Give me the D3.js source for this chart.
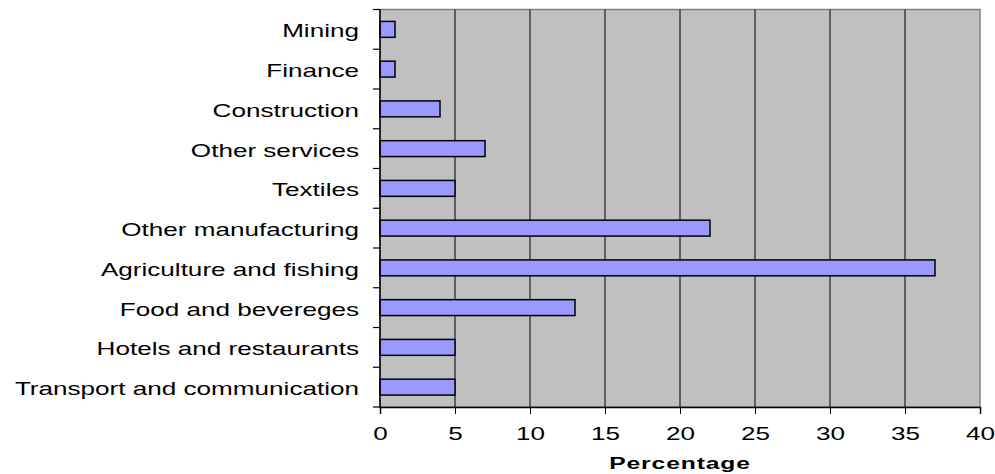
<!DOCTYPE html>
<html>
<head>
<meta charset="utf-8">
<script src="https://cdn.jsdelivr.net/npm/d3@7"></script>
<style>
  body { margin: 0; background: #fff; }
  text { font-family: "Liberation Sans", Arial, sans-serif; }
</style>
</head>
<body>
<script>
var categories = ['Mining', 'Finance', 'Construction', 'Other services', 'Textiles',
  'Other manufacturing', 'Agriculture and fishing', 'Food and bevereges',
  'Hotels and restaurants', 'Transport and communication'];
var values = [1, 1, 4, 7, 5, 22, 37, 13, 5, 5];
var xTicks = [0, 5, 10, 15, 20, 25, 30, 35, 40];

var width = 995, height = 474;
var plotLeft = 380, plotRight = 980, plotTop = 9.5, plotBottom = 407;
var stretch = 1.45; // the original text is drawn wide

var svg = d3.select('body').append('svg')
  .attr('width', width)
  .attr('height', height);

var x = d3.scaleLinear().domain([0, 40]).range([plotLeft, plotRight]);
var y = d3.scaleBand().domain(categories).range([plotTop, plotBottom]).paddingInner(0.6).paddingOuter(0.3);
var yb = d3.scaleBand().domain(categories).range([plotTop, plotBottom]);

// plot background
svg.append('rect')
  .attr('x', plotLeft).attr('y', plotTop)
  .attr('width', plotRight - plotLeft).attr('height', plotBottom - plotTop)
  .attr('fill', '#c0c0c0')
  .attr('stroke', '#808080')
  .attr('stroke-width', 1.5);

// vertical gridlines
svg.selectAll('line.grid')
  .data(xTicks.slice(1, -1))
  .enter().append('line')
  .attr('class', 'grid')
  .attr('x1', function(d){ return x(d); })
  .attr('x2', function(d){ return x(d); })
  .attr('y1', plotTop).attr('y2', plotBottom)
  .attr('stroke', '#000')
  .attr('stroke-width', 1);

// bars
svg.selectAll('rect.bar')
  .data(values)
  .enter().append('rect')
  .attr('class', 'bar')
  .attr('x', x(0))
  .attr('y', function(d, i){ return y(categories[i]); })
  .attr('width', function(d){ return x(d) - x(0); })
  .attr('height', y.bandwidth())
  .attr('fill', '#9999ff')
  .attr('stroke', '#000')
  .attr('stroke-width', 1.5);

// x axis
var xAxis = d3.axisBottom(x).tickValues(xTicks).tickSize(7);
var gx = svg.append('g')
  .attr('transform', 'translate(0,' + plotBottom + ')')
  .call(xAxis);
gx.select('.domain').attr('stroke', '#000').attr('stroke-width', 1.5);
gx.selectAll('text')
  .attr('y', 33).attr('dy', 0)
  .attr('font-size', 18).attr('fill', '#000')
  .attr('transform', 'scale(' + stretch + ',1)')
  .style('font-family', '"Liberation Sans", Arial, sans-serif');

// y axis: ticks on category boundaries
var gy = svg.append('g');
gy.append('line')
  .attr('x1', plotLeft).attr('x2', plotLeft)
  .attr('y1', plotTop).attr('y2', plotBottom)
  .attr('stroke', '#000').attr('stroke-width', 1.5);
var bounds = categories.map(function(c){ return yb(c); }).concat([plotBottom]);
gy.selectAll('line.tk')
  .data(bounds)
  .enter().append('line')
  .attr('class', 'tk')
  .attr('x1', plotLeft - 7).attr('x2', plotLeft)
  .attr('y1', function(d){ return d; })
  .attr('y2', function(d){ return d; })
  .attr('stroke', '#000').attr('stroke-width', 1.2);
gy.selectAll('text')
  .data(categories)
  .enter().append('text')
  .attr('transform', function(d){
    return 'translate(' + (plotLeft - 21) + ',' + (yb(d) + yb.bandwidth() / 2 + 8) + ') scale(' + stretch + ',1)';
  })
  .attr('text-anchor', 'end')
  .attr('font-size', 18)
  .text(function(d){ return d; });

// axis title
svg.append('text')
  .attr('transform', 'translate(' + ((plotLeft + plotRight) / 2) + ',469) scale(' + stretch + ',1)')
  .attr('text-anchor', 'middle')
  .attr('font-size', 17)
  .attr('font-weight', 'bold')
  .attr('letter-spacing', 0.6)
  .text('Percentage');
</script>
</body>
</html>
